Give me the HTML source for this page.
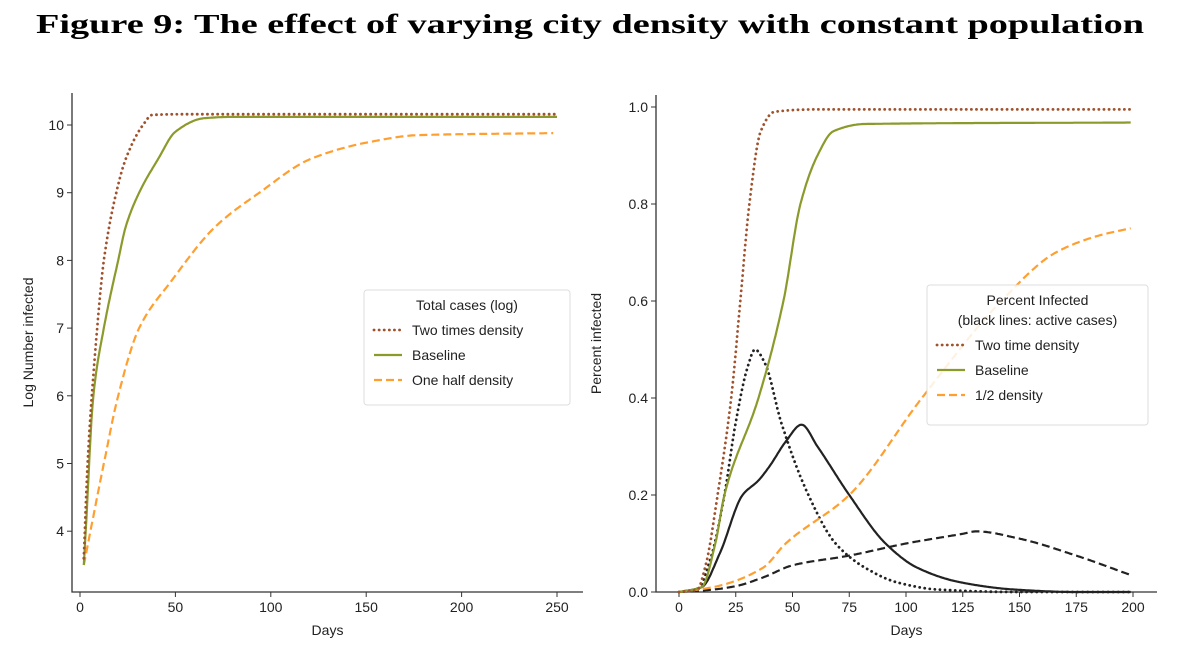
<!DOCTYPE html>
<html><head><meta charset="utf-8"><style>
html,body{margin:0;padding:0;background:#fff;width:1200px;height:661px;overflow:hidden}
svg{display:block;font-family:"Liberation Sans","DejaVu Sans",sans-serif}
</style></head><body>
<svg id="fig" width="1200" height="661" viewBox="0 0 1200 661">
<text x="36" y="33" textLength="1108" lengthAdjust="spacingAndGlyphs" font-family="Liberation Serif, serif" font-weight="bold" font-size="27" fill="#000">Figure 9: The effect of varying city density with constant population</text>
<g id="left"></g>
<g id="right"></g>
</svg>
<script>
// Left chart data: log total cases
const leftTicksX = [0,50,100,150,200,250];
const leftTicksY = [4,5,6,7,8,9,10];
const twoDays = [2,4,9,12.5,19,24,33,38,60,250];
const twoLog = [3.6,5,7,8,9,9.5,10,10.15,10.16,10.16];
const baseDays = [2,3,7,12.5,20,24,31,41,50,65,80,250];
const baseLog = [3.5,4,6,7,8,8.5,9,9.5,9.9,10.1,10.12,10.12];
const halfDays = [2,12.5,20,31,48,71,94,121,152,177,248];
const halfLog = [3.5,5,6,7,7.7,8.5,9,9.5,9.75,9.85,9.88];

// Right chart data: percent infected
const rightTicksX = [0,25,50,75,100,125,150,175,200];
const rightTicksY = [0.0,0.2,0.4,0.6,0.8,1.0];
const twoTotDays = [0,8,12,17,23,27,31,36,42,60,199];
const twoTotVals = [0,0.005,0.06,0.2,0.4,0.6,0.8,0.95,0.99,0.995,0.995];
const baseTotDays = [0,10,16,20,35,46,53.5,61,68,82,199];
const baseTotVals = [0,0.01,0.1,0.2,0.4,0.6,0.8,0.9,0.95,0.965,0.968];
const halfTotDays = [0,15,37,47,75,107,142,166,185,199];
const halfTotVals = [0,0.01,0.05,0.1,0.2,0.4,0.6,0.7,0.735,0.75];
const twoActDays = [0,8,14,20,25,30,33.5,38,45,57,69,82,96,114,150,199];
const twoActVals = [0,0.005,0.07,0.2,0.35,0.46,0.5,0.47,0.35,0.2,0.1,0.05,0.02,0.005,0,0];
const baseActDays = [0,10,18,28,35,40,47,54,61,75,91,105,124,148,175,199];
const baseActVals = [0,0.01,0.08,0.2,0.23,0.26,0.31,0.345,0.3,0.2,0.1,0.05,0.02,0.005,0,0];
const halfActDays = [0,15,25,37,50,75,100,125,131,150,175,199];
const halfActVals = [0,0.005,0.012,0.03,0.055,0.075,0.1,0.12,0.125,0.11,0.075,0.035];

const NS="http://www.w3.org/2000/svg";
function mk(parent,tag,attrs){const e=document.createElementNS(NS,tag);for(const k in attrs)e.setAttribute(k,attrs[k]);parent.appendChild(e);return e;}
// monotone cubic (Fritsch-Carlson) in data space, sampled
function pathD(xs,ys,fx,fy){
  const n=xs.length, d=[], m=new Array(n);
  for(let i=0;i<n-1;i++) d.push((ys[i+1]-ys[i])/(xs[i+1]-xs[i]));
  m[0]=d[0]; m[n-1]=d[n-2];
  for(let i=1;i<n-1;i++){ if(d[i-1]*d[i]<=0) m[i]=0; else { const h0=xs[i]-xs[i-1],h1=xs[i+1]-xs[i]; const w1=2*h1+h0,w2=h1+2*h0; m[i]=(w1+w2)/(w1/d[i-1]+w2/d[i]); } }
  let s="M"+fx(xs[0]).toFixed(1)+","+fy(ys[0]).toFixed(1);
  for(let i=0;i<n-1;i++){
    const h=xs[i+1]-xs[i];
    const steps=Math.max(4,Math.ceil(h*2));
    for(let k=1;k<=steps;k++){
      const t=k/steps, t2=t*t, t3=t2*t;
      const v=(2*t3-3*t2+1)*ys[i]+(t3-2*t2+t)*h*m[i]+(-2*t3+3*t2)*ys[i+1]+(t3-t2)*h*m[i+1];
      s+=" L"+fx(xs[i]+t*h).toFixed(1)+","+fy(v).toFixed(1);
    }
  }
  return s;
}
const BROWN="#a0522d",OLIVE="#8c9a2b",ORANGE="#ff9f30",BLACK="#222";
const styles={dot:{"stroke-dasharray":"0.1,5","stroke-linecap":"round","stroke-width":2.8},solid:{},dash:{"stroke-dasharray":"8,4"}};
function line(g,xs,ys,fx,fy,color,st,name){
  const a=Object.assign({d:pathD(xs,ys,fx,fy),fill:"none",stroke:color,"stroke-width":2.2,"stroke-linejoin":"round"},styles[st]);
  const e=mk(g,"path",a);
  
  
}
function axes(g,x0,x1,yTop,yBot,ticksX,fx,ticksY,fy,fmtY,ylab,yLabX){
  const sp=mk(g,"path",{d:`M${x0},${yTop} V${yBot} H${x1}`,fill:"none",stroke:"#333","stroke-width":1.3});
  
  
  ticksX.forEach(t=>{const x=fx(t);mk(g,"line",{x1:x,x2:x,y1:yBot,y2:yBot+5,stroke:"#333"});
    const tx=mk(g,"text",{x:x,y:yBot+20,"text-anchor":"middle","font-size":14,fill:"#222"});tx.textContent=t;
    
    });
  ticksY.forEach(t=>{const y=fy(t);mk(g,"line",{x1:x0-5,x2:x0,y1:y,y2:y,stroke:"#333"});
    const tx=mk(g,"text",{x:x0-8,y:y+5,"text-anchor":"end","font-size":14,fill:"#222"});tx.textContent=fmtY(t);
    
    });
  const xl=mk(g,"text",{x:(x0+x1)/2,y:yBot+43,"text-anchor":"middle","font-size":14,fill:"#222"});xl.textContent="Days";
  
  
  const yc=(yTop+yBot)/2;
  const yl=mk(g,"text",{x:yLabX,y:yc,"text-anchor":"middle","font-size":14,fill:"#222",transform:`rotate(-90 ${yLabX} ${yc})`});yl.textContent=ylab;
  
  
}
function legend(g,x,y,w,h,titles,entries){
  const r=mk(g,"rect",{x:x,y:y,width:w,height:h,rx:3,fill:"#fff","fill-opacity":0.85,stroke:"#ddd"});
  
  
  let yy=y+20;
  titles.forEach(t=>{const e=mk(g,"text",{x:x+w/2,y:yy,"text-anchor":"middle","font-size":14,fill:"#222"});e.textContent=t;
    
    yy+=20;});
  yy+=5;
  entries.forEach(en=>{
    mk(g,"line",Object.assign({x1:x+10,x2:x+38,y1:yy-5,y2:yy-5,stroke:en[1],"stroke-width":2.2},styles[en[2]]));
    const e=mk(g,"text",{x:x+48,y:yy,"font-size":14,fill:"#222"});e.textContent=en[0];
    
    
    yy+=25;});
}
// Left
(function(){
  const g=document.getElementById("left");
  const fx=d=>80+d*(477/250), fy=v=>125+(10-v)*67.7;
  axes(g,72,583,93,592,leftTicksX,fx,leftTicksY,fy,v=>String(v),"Log Number infected",33);
  line(g,halfDays,halfLog,fx,fy,ORANGE,"dash","half-density-line");
  line(g,baseDays,baseLog,fx,fy,OLIVE,"solid","baseline-line");
  line(g,twoDays,twoLog,fx,fy,BROWN,"dot","two-times-density-line");
  legend(g,364,290,206,115,["Total cases (log)"],[["Two times density",BROWN,"dot"],["Baseline",OLIVE,"solid"],["One half density",ORANGE,"dash"]]);
})();
// Right
(function(){
  const g=document.getElementById("right");
  const fx=d=>679+d*(454/200), fy=v=>592-v*485;
  axes(g,656,1157,95,592,rightTicksX,fx,rightTicksY,fy,v=>v.toFixed(1),"Percent infected",601);
  line(g,halfActDays,halfActVals,fx,fy,BLACK,"dash","half-density-active-line");
  line(g,baseActDays,baseActVals,fx,fy,BLACK,"solid","baseline-active-line");
  line(g,twoActDays,twoActVals,fx,fy,BLACK,"dot","two-times-density-active-line");
  line(g,halfTotDays,halfTotVals,fx,fy,ORANGE,"dash","half-density-total-line");
  line(g,baseTotDays,baseTotVals,fx,fy,OLIVE,"solid","baseline-total-line");
  line(g,twoTotDays,twoTotVals,fx,fy,BROWN,"dot","two-times-density-total-line");
  legend(g,927,285,221,140,["Percent Infected","(black lines: active cases)"],[["Two time density",BROWN,"dot"],["Baseline",OLIVE,"solid"],["1/2 density",ORANGE,"dash"]]);
})();
</script>
</body></html>
